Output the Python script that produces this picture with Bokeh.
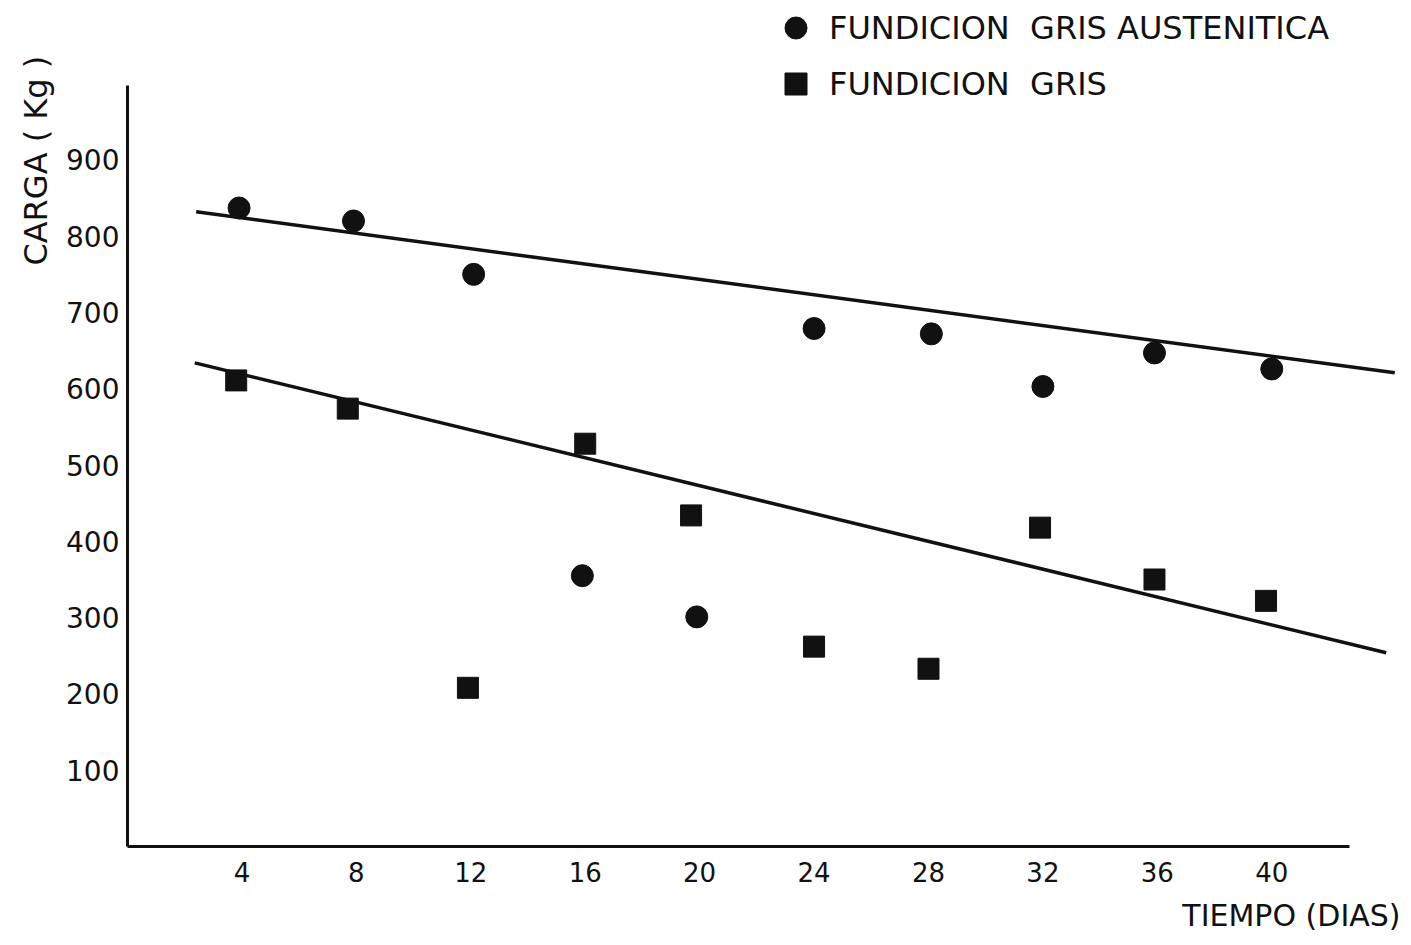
import math
from bokeh.plotting import figure
from bokeh.models import Range1d, FixedTicker, Legend, LegendItem, Title
from bokeh.embed import file_html
from bokeh.resources import INLINE

# ---- data ----
x_ticks = [4, 8, 12, 16, 20, 24, 28, 32, 36, 40]
y_ticks = [100, 200, 300, 400, 500, 600, 700, 800, 900]

aust_days = [3.9, 7.9, 12.1, 15.9, 19.9, 24.0, 28.1, 32.0, 35.9, 40.0]
aust_load = [837, 820, 750, 355, 301, 679, 672, 603, 647, 626]

gris_days = [3.8, 7.7, 11.9, 16.0, 19.7, 24.0, 28.0, 31.9, 35.9, 39.8]
gris_load = [611, 574, 208, 528, 434, 262, 233, 418, 350, 322]

aust_trend_days = [2.4, 44.3]
aust_trend_load = [832, 621]
gris_trend_days = [2.35, 44.0]
gris_trend_load = [634, 254]

label_aust = "FUNDICION  GRIS AUSTENITICA"
label_gris = "FUNDICION  GRIS"
x_title = "TIEMPO (DIAS)"
y_title = "CARGA  ( Kg )"

FONT = "DejaVu Sans"
INK = "#111111"

p = figure(width=1411, height=945, output_backend="svg", toolbar_location=None,
           x_range=Range1d(0, 44.5), y_range=Range1d(0, 1109),
           min_border_left=127, min_border_right=11, min_border_top=0,
           min_border_bottom=99)
p.outline_line_color = None
p.xgrid.visible = False
p.ygrid.visible = False
p.background_fill_color = "white"
p.border_fill_color = "white"

for ax in (p.xaxis[0], p.yaxis[0]):
    ax.axis_line_width = 3
    ax.axis_line_color = INK
    ax.major_tick_in = 0
    ax.major_tick_out = 0
    ax.minor_tick_in = 0
    ax.minor_tick_out = 0
    ax.major_label_text_font = FONT
    ax.major_label_text_color = INK

p.xaxis[0].ticker = FixedTicker(ticks=x_ticks)
p.xaxis[0].bounds = (0, 42.7)
p.xaxis[0].major_label_text_font_size = "26px"
p.xaxis[0].major_label_standoff = 15

p.yaxis[0].ticker = FixedTicker(ticks=y_ticks)
p.yaxis[0].bounds = (0, 998)
p.yaxis[0].major_label_text_font_size = "28px"
p.yaxis[0].major_label_standoff = 8

r_at = p.line(aust_trend_days, aust_trend_load, line_width=3.5, line_color=INK)
r_gt = p.line(gris_trend_days, gris_trend_load, line_width=3.5, line_color=INK)

r_a = p.scatter(aust_days, aust_load, marker="circle", size=22,
                fill_color=INK, line_color=INK)
r_g = p.scatter(gris_days, gris_load, marker="square", size=21,
                fill_color=INK, line_color=INK)

legend = Legend(items=[LegendItem(label=label_aust, renderers=[r_a]),
                       LegendItem(label=label_gris, renderers=[r_g])],
                location=(641, 735), orientation="vertical",
                label_text_font=FONT, label_text_font_size="32px",
                label_text_color=INK, glyph_width=55, glyph_height=55,
                label_height=24, label_standoff=6, spacing=1,
                padding=0, margin=0, border_line_color=None,
                background_fill_alpha=0)
p.add_layout(legend)

p.add_layout(Title(text=y_title, align="right", offset=45, standoff=18,
                   text_font=FONT, text_font_size="32px",
                   text_font_style="normal", text_color=INK), "left")
p.add_layout(Title(text=x_title, align="right", standoff=22,
                   text_font=FONT, text_font_size="30px",
                   text_font_style="normal", text_color=INK), "below")

open("out.html", "w").write(file_html(p, INLINE))
